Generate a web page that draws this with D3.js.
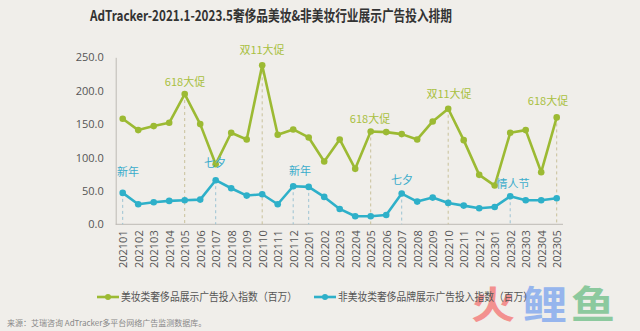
<!DOCTYPE html>
<html>
<head>
<meta charset="utf-8">
<script src="https://cdn.jsdelivr.net/npm/d3@7"></script>
<style>
  html, body { margin: 0; padding: 0; background: #f0eeea; }
  svg { display: block; font-family: "Noto Sans CJK SC", "Noto Sans", sans-serif; }
</style>
</head>
<body>
<svg id="chart" width="640" height="331"></svg>
<script>
// Monthly periods
const months = ["202101","202102","202103","202104","202105","202106","202107","202108","202109","202110","202111","202112",
                "202201","202202","202203","202204","202205","202206","202207","202208","202209","202210","202211","202212",
                "202301","202302","202303","202304","202305"];

// Beauty luxury display-ad index (millions)
const beauty = [158,141,147,152,195,150,90,137,127,238,134,142,
                130,94,127,83,139,138,135,127,154,173,126,74,
                58,137,141,78,160];

// Non-beauty luxury brand display-ad index (millions)
const nonBeauty = [47,30,33,35,36,37,66,54,43,45,30,57,
                   56,41,23,12,12,14,46,34,40,32,28,24,
                   26,42,36,36,39];

const yTicks = [0,50,100,150,200,250];

// Event markers: [month, label]
const beautyEvents = [["202105","618大促"],["202110","双11大促"],["202205","618大促"],["202210","双11大促"],["202305","618大促"]];
const nonBeautyEvents = [["202101","新年"],["202107","七夕"],["202112","新年"],["202201",""],["202207","七夕"],["202302","情人节"]];

const titleText = "AdTracker-2021.1-2023.5奢侈品美妆&非美妆行业展示广告投入排期";
const legendBeauty = "美妆类奢侈品展示广告投入指数（百万）";
const legendNonBeauty = "非美妆类奢侈品牌展示广告投入指数（百万）";
const sourceText = "来源：艾瑞咨询 AdTracker多平台网络广告监测数据库。";

const GREEN = "#9cba33", BLUE = "#2eb0c9";
const GREEN_TXT = "#a9c03f", BLUE_TXT = "#3aaccb";

const svg = d3.select("#chart");

const x = d3.scalePoint().domain(months).range([122.7, 556.7]);
const y = d3.scaleLinear().domain([0, 250]).range([224.3, 57.3]);

// Title
svg.append("text").attr("x", 90).attr("y", 21)
  .attr("font-size", 14.5).attr("font-weight", "bold").attr("fill", "#333")
  .attr("textLength", 362).attr("lengthAdjust", "spacingAndGlyphs")
  .text(titleText);

// Axes
const yAxis = svg.append("g").attr("transform", "translate(115.7,0)")
  .call(d3.axisLeft(y).tickValues(yTicks).tickFormat(d3.format(".1f")).tickSize(0).tickPadding(12));
yAxis.select(".domain").attr("stroke", "#bdbab4");
yAxis.selectAll("text").attr("font-size", 11).attr("fill", "#555").attr("font-family", "'Open Sans', 'Noto Sans', sans-serif");

const xAxis = svg.append("g").attr("transform", "translate(0,224.3)")
  .call(d3.axisBottom(x).tickSize(0).tickPadding(0));
xAxis.select(".domain").attr("d", "M115.7,0H563").attr("stroke", "#bdbab4");
xAxis.selectAll("text")
  .attr("transform", "rotate(-90)")
  .attr("text-anchor", "end")
  .attr("x", -6).attr("y", 0).attr("dy", "0.35em")
  .attr("font-size", 11).attr("fill", "#555")
  .attr("font-family", "'Open Sans', 'Noto Sans', sans-serif");

// Dashed event guides
const idx = m => months.indexOf(m);
svg.append("g").selectAll("line").data(beautyEvents).join("line")
  .attr("x1", d => x(d[0])).attr("x2", d => x(d[0]))
  .attr("y1", d => y(beauty[idx(d[0])])).attr("y2", y(0))
  .attr("stroke", "#c9c19a").attr("stroke-width", 1).attr("stroke-dasharray", "3,3");
svg.append("g").selectAll("line").data(nonBeautyEvents).join("line")
  .attr("x1", d => x(d[0])).attr("x2", d => x(d[0]))
  .attr("y1", d => y(nonBeauty[idx(d[0])])).attr("y2", y(0))
  .attr("stroke", "#9cc3d3").attr("stroke-width", 1).attr("stroke-dasharray", "3,3");

// Series lines and markers
function drawSeries(values, color) {
  const line = d3.line().x((d, i) => x(months[i])).y(d => y(d));
  svg.append("path").datum(values).attr("d", line)
    .attr("fill", "none").attr("stroke", color).attr("stroke-width", 2.6).attr("stroke-linejoin", "round");
  svg.append("g").selectAll("circle").data(values).join("circle")
    .attr("cx", (d, i) => x(months[i])).attr("cy", d => y(d)).attr("r", 3.3).attr("fill", color);
}
drawSeries(beauty, GREEN);
drawSeries(nonBeauty, BLUE);

// Event labels
const beautyLabelPos = {"202105": [185, 82], "202110": [262, 50], "202205": [370, 119], "202210": [449, 94], "202305": [548, 101]};
const nonBeautyLabelPos = {"202101": [128, 172], "202107": [215, 163], "202112": [300, 171], "202207": [402, 180], "202302": [513, 184]};
svg.append("g").selectAll("text").data(beautyEvents.filter(d => d[1])).join("text")
  .attr("x", d => beautyLabelPos[d[0]][0]).attr("y", d => beautyLabelPos[d[0]][1])
  .attr("dy", "0.35em").attr("text-anchor", "middle").attr("font-size", 11).attr("fill", GREEN_TXT)
  .text(d => d[1]);
svg.append("g").selectAll("text").data(nonBeautyEvents.filter(d => d[1])).join("text")
  .attr("x", d => nonBeautyLabelPos[d[0]][0]).attr("y", d => nonBeautyLabelPos[d[0]][1])
  .attr("dy", "0.35em").attr("text-anchor", "middle").attr("font-size", 11).attr("fill", BLUE_TXT)
  .text(d => d[1]);

// Watermark logo (sits behind the legend)
const wm = svg.append("g").attr("font-size", 38).attr("font-weight", "bold").attr("opacity", 0.8);
wm.append("text").attr("x", 471).attr("y", 318).attr("fill", "#f47b79")
  .attr("textLength", 44).attr("lengthAdjust", "spacingAndGlyphs").text("火");
wm.append("text").attr("x", 522).attr("y", 318).attr("fill", "#80a8ee")
  .attr("textLength", 45).attr("lengthAdjust", "spacingAndGlyphs").text("鲤");
wm.append("text").attr("x", 571).attr("y", 318).attr("fill", "#74c08c")
  .attr("textLength", 44).attr("lengthAdjust", "spacingAndGlyphs").text("鱼");

// Legend
function legendItem(x0, yy, color, label, len) {
  const g = svg.append("g");
  g.append("line").attr("x1", x0).attr("x2", x0 + 22).attr("y1", yy).attr("y2", yy)
    .attr("stroke", color).attr("stroke-width", 2.6);
  g.append("circle").attr("cx", x0 + 11).attr("cy", yy).attr("r", 3).attr("fill", color);
  g.append("text").attr("x", x0 + 24).attr("y", yy).attr("dy", "0.35em")
    .attr("font-size", 11).attr("fill", "#555")
    .attr("textLength", len).attr("lengthAdjust", "spacingAndGlyphs").text(label);
}
legendItem(97, 297, GREEN, legendBeauty, 176);
legendItem(314, 297, BLUE, legendNonBeauty, 195);

// Source note
svg.append("text").attr("x", 7).attr("y", 326).attr("font-size", 8).attr("fill", "#888").text(sourceText);
</script>
</body>
</html>
